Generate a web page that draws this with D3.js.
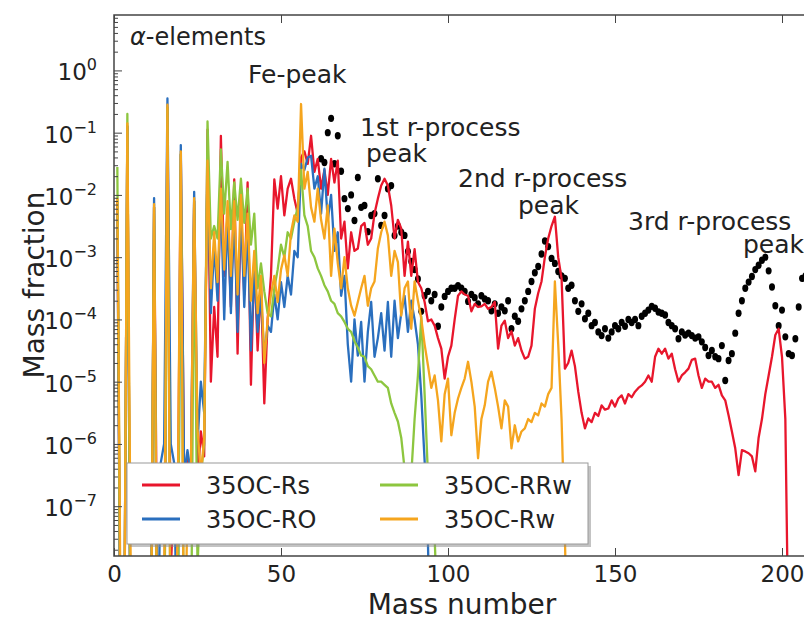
<!DOCTYPE html>
<html>
<head>
<meta charset="utf-8">
<script src="https://cdn.jsdelivr.net/npm/d3@7"></script>
<style>
body { margin: 0; background: #fff; }
text { font-family: "DejaVu Sans", sans-serif; fill: #222; }
</style>
</head>
<body>
<script>
// log10 of the mass fraction, one value per mass number, starting at A = 1
var rsLog = [
  -2.1, -10, -10, -0.9, -10, -10, -10, -10, -10, -10,
  -10, -2.2, -8.5, -10, -10, -0.6, -8, -6.8, -8, -1.35,
  -6.5, -6.2, -6.8, -2.1, -6.6, -5.8, -6.2, -0.95, -5.0, -3.8,
  -4.6, -1.05, -3.3, -2.3, -3.8, -1.75, -4.55, -2.2, -3.6, -1.8,
  -5.05, -3.0, -4.5, -3.4, -5.35, -4.0, -3.3, -1.75, -2.22, -1.7,
  -2.33, -1.9, -1.74, -2.06, -2.3, -1.4, -1.3, -1.5, -1.05, -1.63,
  -1.42, -1.9, -1.6, -2.0, -1.42, -1.8, -1.45, -2.7, -2.43, -3.18,
  -2.6, -2.9, -2.86, -2.5, -2.45, -2.8, -2.7, -2.3, -2.06, -1.85,
  -1.74, -1.85, -2.17, -2.7, -2.4, -2.54, -3.3, -2.75, -3.3, -2.87,
  -3.4, -3.5, -3.72, -4.03, -4.0, -4.1, -4.3, -4.47, -4.95, -4.6,
  -4.42, -4.0, -3.62, -3.55, -3.6, -3.62, -3.87, -3.75, -3.8, -3.79,
  -3.75, -3.83, -3.8, -3.72, -4.47, -4.1, -4.02, -4.3, -4.19, -4.42,
  -4.3, -4.5, -4.63, -4.6, -4.42, -3.83, -3.58, -3.39, -3.0, -2.7,
  -2.5, -2.35, -3.0, -3.34, -4.79, -4.7, -4.5, -4.75, -5.16, -5.5,
  -5.75, -5.59, -5.65, -5.5, -5.55, -5.38, -5.45, -5.43, -5.3, -5.4,
  -5.27, -5.22, -5.35, -5.2, -5.25, -5.16, -5.1, -5.06, -5.0, -4.9,
  -5.0, -4.6, -4.47, -4.55, -4.47, -4.63, -4.55, -4.8, -5.0, -4.9,
  -4.85, -4.79, -4.65, -4.63, -4.9, -5.1, -4.95, -5.0, -5.0, -5.1,
  -5.05, -5.22, -5.3, -5.54, -5.8, -6.07, -6.5, -6.1, -6.12, -6.15,
  -6.2, -6.44, -5.9, -5.6, -5.2, -4.9, -4.6, -4.25, -4.15, -4.6,
  -5.6, -9.5
];
var roLog = [
  -2.3, -10, -10, -0.9, -10, -10, -10, -10, -10, -10,
  -10, -2.05, -10, -6.3, -6.0, -0.45, -6.0, -6.3, -10, -1.2,
  -6.5, -6.1, -6.5, -1.95, -6.0, -5.0, -5.5, -1.5, -3.9, -2.8,
  -3.7, -2.0, -4.0, -2.3, -3.9, -2.3, -4.2, -2.2, -3.8, -2.5,
  -4.5, -3.2, -4.2, -3.6, -4.6, -4.1, -4.2, -3.6, -4.0, -3.4,
  -3.8, -3.3, -3.6, -2.9, -3.0, -1.5, -1.6, -1.4, -1.37, -1.9,
  -1.7, -2.3, -1.58, -2.4, -2.0, -2.9, -2.6, -3.62, -3.3, -4.4,
  -5.0, -4.0, -4.58, -4.04, -5.0, -4.2, -3.72, -4.6, -4.3, -3.9,
  -4.5, -3.72, -4.6, -3.7, -4.3, -3.9, -3.62, -4.2, -3.7, -4.0,
  -4.4, -5.22, -6.27, -7.6, -10
];
var rrwLog = [
  -1.55, -10, -10, -0.7, -10, -10, -10, -10, -10, -10,
  -10, -2.2, -10, -10, -10, -0.6, -10, -10, -10, -1.35,
  -10, -10, -10, -2.1, -8, -6.5, -6, -0.82, -2.7, -2.5,
  -2.7, -1.27, -2.3, -1.47, -2.55, -1.8, -2.4, -1.74, -2.45, -1.9,
  -2.8, -2.3, -3.5, -3.1, -3.55, -3.9, -3.95, -3.5, -3.2, -2.8,
  -3.0, -2.6, -2.7, -2.43, -2.2, -1.6, -2.33, -2.5, -2.9, -3.0,
  -3.18, -3.3, -3.45, -3.55, -3.7, -3.75, -3.9, -3.95, -4.04, -4.15,
  -4.2, -4.35, -4.45, -4.58, -4.6, -4.75, -4.8, -4.9, -5.0, -5.0,
  -5.05, -5.1, -5.35, -5.5, -5.64, -5.9, -6.4, -6.8, -6.5, -5.6,
  -4.9, -3.95, -5.2, -6.5, -7.0, -7.5, -9
];
var rwLog = [
  -2.05, -9, -10, -0.85, -8, -10, -10, -10, -10, -8,
  -10, -2.15, -10, -10, -8.5, -0.55, -10, -10, -7.5, -1.3,
  -10, -7.0, -6.5, -2.05, -5.75, -6.5, -5.9, -1.45, -3.5, -2.6,
  -3.4, -1.9, -3.2, -2.1, -3.3, -2.1, -3.6, -2.0, -3.3, -2.3,
  -3.7, -2.9, -3.9, -3.3, -4.7, -4.0, -3.6, -3.3, -3.72, -3.2,
  -2.97, -3.3, -2.6, -2.33, -2.43, -0.54, -1.9, -1.63, -2.2, -2.43,
  -1.9, -2.4, -2.7, -2.17, -3.3, -2.54, -3.1, -3.5, -3.0, -3.5,
  -3.78, -3.94, -3.72, -3.5, -3.3, -3.78, -3.5, -3.39, -2.86, -2.6,
  -2.43, -2.65, -3.3, -2.9, -3.08, -3.94, -3.5, -3.39, -4.15, -3.39,
  -3.7, -3.99, -4.4, -4.74, -5.1, -4.9, -5.3, -5.96, -5.2, -4.95,
  -5.86, -5.5, -5.27, -5.1, -4.95, -4.68, -5.0, -5.4, -6.23, -5.6,
  -5.38, -5.0, -4.84, -5.1, -5.4, -5.75, -5.3, -5.4, -6.07, -5.7,
  -5.96, -5.8, -5.75, -5.6, -5.65, -5.5, -5.54, -5.35, -5.4, -5.2,
  -5.1, -3.39, -4.4, -5.6, -7.5, -10
];
// solar r-process abundances (black dots), starting at A = 62
var solarStart = 62;
var solarLog = [
  -1.42, -1.48, -1.0, -0.77, -1.5, -1.05, -1.62, -2.06, -2.22, -2.0,
  -2.41, -1.72, -2.2, -2.17, -2.59, -2.33, -2.3, -1.74, -2.49, -2.33,
  -1.9, -1.85, -2.65, -2.5, -2.6, -2.65, -2.91, -3.07, -3.2, -3.35,
  -3.87, -3.62, -3.55, -3.7, -3.6, -4.11, -3.8, -3.63, -3.55, -3.5,
  -3.5, -3.46, -3.5, -3.55, -3.71, -3.6, -3.65, -3.75, -3.62, -3.67,
  -3.7, -3.86, -3.75, -3.9, -3.8, -3.86, -3.7, -4.15, -3.95, -4.03,
  -3.83, -3.7, -3.55, -3.39, -3.25, -3.15, -2.95, -2.74, -2.83, -3.02,
  -3.1, -3.23, -3.3, -3.34, -3.5, -3.45, -3.7, -3.87, -3.75, -3.99,
  -3.9, -4.1, -4.05, -4.2, -4.26, -4.15, -4.3, -4.2, -4.1, -4.15,
  -4.05, -4.11, -4.0, -4.05, -4.0, -4.1, -3.95, -3.9, -3.85, -3.79,
  -3.82, -3.88, -3.9, -3.93, -4.05, -4.1, -4.15, -4.31, -4.2, -4.25,
  -4.22, -4.26, -4.3, -4.28, -4.36, -4.45, -4.58, -4.5, -4.6, -4.63,
  -4.42, -4.98, -4.66, -4.55, -4.22, -3.9, -3.7, -3.5, -3.4, -3.31,
  -3.2, -3.13, -3.05, -3.0, -3.22, -3.48, -3.78, -4.1, -3.85, -4.28,
  -4.55, -4.58, -4.31, -3.8, -3.34, -3.3
];

var seriesNames = ["35OC-Rs", "35OC-RO", "35OC-RRw", "35OC-Rw"];
var seriesColors = ["#e8162c", "#2a6fbe", "#8dc63f", "#f5a51e"];
var seriesLogs = [rsLog, roLog, rrwLog, rwLog];

var xTicks = [0, 50, 100, 150, 200];
var yTickExp = [0, -1, -2, -3, -4, -5, -6, -7];

var annotations = [
  {t: "Fe-peak", x: 248, y: 83},
  {t: "1st r-process", x: 360, y: 136},
  {t: "peak", x: 366, y: 162},
  {t: "2nd r-process", x: 458, y: 187},
  {t: "peak", x: 518, y: 214},
  {t: "3rd r-process", x: 628, y: 230},
  {t: "peak", x: 743, y: 253}
];

var W = 804, H = 621;
var plotLeft = 114, plotTop = 15, plotBottom = 556;

var svg = d3.select("body").append("svg")
    .attr("width", W)
    .attr("height", H);

var x = d3.scaleLinear().domain([0, 210]).range([plotLeft, plotLeft + 210 * 3.34]);
var y = d3.scaleLog().domain([Math.pow(10, -7.8), Math.pow(10, 0.89)]).range([plotBottom, plotTop]);

svg.append("clipPath").attr("id", "plot")
  .append("rect")
    .attr("x", plotLeft).attr("y", plotTop)
    .attr("width", W - plotLeft).attr("height", plotBottom - plotTop);

var plot = svg.append("g").attr("clip-path", "url(#plot)");

// solar r-process dots
var solar = solarLog.map((e, i) => [solarStart + i, Math.pow(10, e)]);
plot.selectAll(".solar")
    .data(solar)
    .enter()
    .append("ellipse")
    .attr("class", "solar")
    .attr("cx", d => x(d[0]))
    .attr("cy", d => y(d[1]))
    .attr("rx", 3)
    .attr("ry", 3.7)
    .attr("fill", "#000");

var line = d3.line()
    .x(d => x(d[0]))
    .y(d => y(d[1]));

seriesLogs.forEach((logs, k) => {
    var pts = logs.map((e, i) => [i + 1, Math.pow(10, e)]);
    plot.append("path")
        .attr("d", line(pts))
        .attr("fill", "none")
        .attr("stroke", seriesColors[k])
        .attr("stroke-width", 2.3)
        .attr("stroke-linejoin", "round");
});

// axes, ticks pointing inwards
var minor = [];
for (var e = -8; e <= 0; e++) {
    for (var m = 2; m <= 9; m++) {
        var v = m * Math.pow(10, e);
        if (v > y.domain()[0] && v < y.domain()[1]) minor.push(v);
    }
}

svg.append("g")
    .attr("transform", "translate(" + plotLeft + ",0)")
    .call(d3.axisLeft(y).tickValues(minor).tickSize(-4).tickFormat(""))
    .call(g => g.select(".domain").remove());

svg.append("g")
    .attr("transform", "translate(" + plotLeft + ",0)")
    .call(d3.axisLeft(y).tickValues(yTickExp.map(e => Math.pow(10, e))).tickSize(-8).tickFormat(""))
    .call(g => g.select(".domain").remove());

svg.append("g")
    .attr("transform", "translate(0," + plotBottom + ")")
    .call(d3.axisBottom(x).tickValues(xTicks).tickSize(-8).tickSizeOuter(0).tickPadding(10))
    .call(g => g.select(".domain").remove())
    .call(g => g.selectAll("text").style("font-size", "23px").attr("fill", "#222"));

svg.append("g")
    .attr("transform", "translate(0," + plotTop + ")")
    .call(d3.axisTop(x).tickValues(xTicks).tickSize(-8).tickFormat(""))
    .call(g => g.select(".domain").remove());

svg.selectAll(".tick line").attr("stroke", "#444");

// y tick labels as 10 with superscript
var ylab = svg.append("g");
yTickExp.forEach(e => {
    var t = ylab.append("text")
        .attr("x", 97)
        .attr("y", y(Math.pow(10, e)) + 10)
        .attr("text-anchor", "end")
        .style("font-size", "23px");
    t.append("tspan").text("10");
    t.append("tspan")
        .attr("dy", -10)
        .style("font-size", "16px")
        .text(e === 0 ? "0" : "\u2212" + (-e));
});

// spines
svg.append("path")
    .attr("d", "M" + W + "," + plotTop + "H" + plotLeft + "V" + plotBottom + "H" + W)
    .attr("fill", "none")
    .attr("stroke", "#444")
    .attr("stroke-width", 1.5);

// axis labels
svg.append("text")
    .attr("x", 462).attr("y", 614)
    .attr("text-anchor", "middle")
    .style("font-size", "28px")
    .text("Mass number");

svg.append("text")
    .attr("transform", "translate(44,285) rotate(-90)")
    .attr("text-anchor", "middle")
    .style("font-size", "28px")
    .text("Mass fraction");

// annotations
var alpha = svg.append("text")
    .attr("x", 130).attr("y", 45)
    .style("font-size", "24px");
alpha.append("tspan").style("font-style", "italic").text("\u03b1");
alpha.append("tspan").text("-elements");

svg.selectAll(".note")
    .data(annotations)
    .enter()
    .append("text")
    .attr("class", "note")
    .attr("x", d => d.x)
    .attr("y", d => d.y)
    .style("font-size", "25px")
    .text(d => d.t);

// legend
var lg = svg.append("g");
lg.append("rect")
    .attr("x", 130).attr("y", 466)
    .attr("width", 461).attr("height", 81)
    .attr("fill", "#888").attr("opacity", 0.5);
lg.append("rect")
    .attr("x", 127).attr("y", 463)
    .attr("width", 461).attr("height", 81)
    .attr("fill", "#fff")
    .attr("stroke", "#999");

var lgPos = [[142, 485], [142, 519], [380, 485], [380, 519]];
seriesNames.forEach((n, k) => {
    var p = lgPos[k];
    lg.append("line")
        .attr("x1", p[0]).attr("x2", p[0] + 38)
        .attr("y1", p[1]).attr("y2", p[1])
        .attr("stroke", seriesColors[k])
        .attr("stroke-width", 3);
    lg.append("text")
        .attr("x", p[0] + 64).attr("y", p[1] + 9)
        .style("font-size", "24px")
        .text(n);
});
</script>
</body>
</html>
